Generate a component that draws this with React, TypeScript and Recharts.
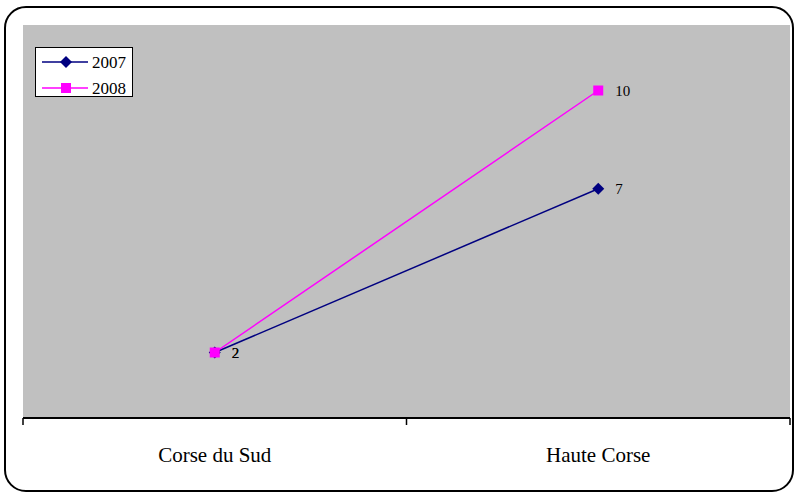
import { CartesianGrid, Legend, Line, LineChart, XAxis, YAxis } from "recharts";

const categories = ["Corse du Sud", "Haute Corse"];
const values2007 = [2, 7];
const values2008 = [2, 10];

const rows = categories.map((region, i) => ({
  region,
  y2007: values2007[i],
  y2008: values2008[i],
}));

const FONT = "'Liberation Serif', 'DejaVu Serif', serif";
const HALF = 191.75;

function Diamond({ cx, cy }: any) {
  if (cx == null || cy == null) return null;
  return <path d={`M${cx},${cy - 6}L${cx + 6},${cy}L${cx},${cy + 6}L${cx - 6},${cy}Z`} fill="#000080" />;
}

function Square({ cx, cy }: any) {
  if (cx == null || cy == null) return null;
  return <rect x={cx - 5} y={cy - 5} width={10} height={10} fill="#FF00FF" />;
}

function CategoryTick({ x, y, payload, index }: any) {
  return (
    <g>
      <line x1={x - HALF} y1={y} x2={x - HALF} y2={y + 7} stroke="#000" strokeWidth={1.5} />
      {index === categories.length - 1 && (
        <line x1={x + HALF} y1={y} x2={x + HALF} y2={y + 7} stroke="#000" strokeWidth={1.5} />
      )}
      <text x={x} y={y + 44} textAnchor="middle" fontSize={21} fontFamily={FONT} fill="#000">
        {payload.value}
      </text>
    </g>
  );
}

function LegendBox() {
  const items = [
    { name: "2007", color: "#000080", marker: "diamond" },
    { name: "2008", color: "#FF00FF", marker: "square" },
  ];
  return (
    <svg width={98} height={50} style={{ display: "block" }}>
      <rect x={0.5} y={0.5} width={97} height={49} fill="#fff" stroke="#000" />
      {items.map((it, i) => {
        const cy = 15 + i * 26;
        return (
          <g key={it.name}>
            <line x1={7} y1={cy} x2={53} y2={cy} stroke={it.color} strokeWidth={1.5} />
            {it.marker === "diamond" ? (
              <path d={`M31,${cy - 6}L37,${cy}L31,${cy + 6}L25,${cy}Z`} fill={it.color} />
            ) : (
              <rect x={26} y={cy - 5} width={10} height={10} fill={it.color} />
            )}
            <text x={57} y={cy + 6} fontSize={17} fontFamily={FONT} fill="#000">
              {it.name}
            </text>
          </g>
        );
      })}
    </svg>
  );
}

export default function App() {
  return (
    <div style={{ position: "absolute", left: 0, top: 0, width: 798, height: 494, background: "#fff" }}>
      <LineChart
        width={798}
        height={494}
        data={rows}
        margin={{ top: 25, right: 8, left: 23, bottom: 0 }}
      >
        <CartesianGrid fill="#C0C0C0" horizontal={false} vertical={false} />
        <XAxis
          dataKey="region"
          height={76}
          tickSize={0}
          tickMargin={0}
          tickLine={false}
          padding={{ left: HALF, right: HALF }}
          axisLine={{ stroke: "#000", strokeWidth: 2 }}
          tick={<CategoryTick />}
          interval={0}
        />
        <XAxis xAxisId="top" dataKey="region" orientation="top" height={0} tick={false} tickLine={false} axisLine={{ stroke: "#888" }} />
        <YAxis domain={[0, 12]} width={0} tick={false} tickLine={false} axisLine={{ stroke: "#888" }} />
        <Legend
          verticalAlign="middle"
          align="center"
          layout="vertical"
          wrapperStyle={{ left: 35, top: 47, width: 98, height: 50 }}
          content={<LegendBox />}
        />
        <Line
          dataKey="y2007"
          stroke="#000080"
          strokeWidth={1.5}
          dot={<Diamond />}
          activeDot={false}
          isAnimationActive={false}
          label={{ position: "right", offset: 17, fontSize: 15, fontFamily: FONT, fill: "#000" }}
        />
        <Line
          dataKey="y2008"
          stroke="#FF00FF"
          strokeWidth={1.5}
          dot={<Square />}
          activeDot={false}
          isAnimationActive={false}
          label={{ position: "right", offset: 17, fontSize: 15, fontFamily: FONT, fill: "#000" }}
        />
      </LineChart>
      <div
        style={{
          position: "absolute",
          left: 4,
          top: 6,
          width: 786,
          height: 482,
          border: "2px solid #000",
          borderRadius: 22,
          pointerEvents: "none",
        }}
      />
    </div>
  );
}
